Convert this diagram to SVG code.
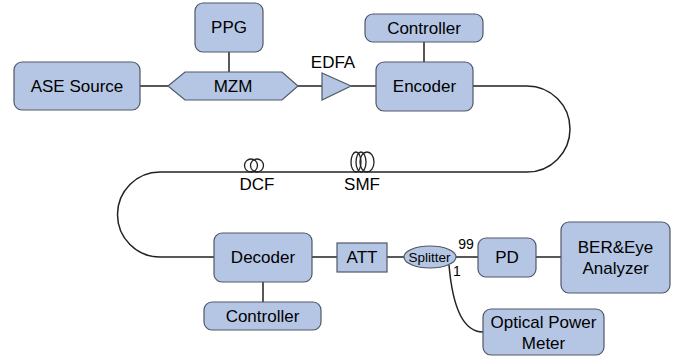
<svg xmlns="http://www.w3.org/2000/svg" width="689" height="358" viewBox="0 0 689 358">
<style>
.box{fill:#b4c6e4;stroke:#505868;stroke-width:1.2}
.ln{fill:none;stroke:#222;stroke-width:1.5}
.coil{fill:none;stroke:#222;stroke-width:1.3}
text{font-family:"Liberation Sans",Arial,sans-serif;fill:#000;text-anchor:middle}
.t{font-size:17px}
.s{font-size:13.5px}
.n{font-size:14px}
</style>
<rect width="689" height="358" fill="#fff"/>
<g id="connectors">
<path class="ln" d="M140 86H168M298 86H322M351 86H376M229 52V72M424 42V62M312 257H337M387 257H404M456 257H478M536 257H561M263 282V302"/>
<path class="ln" d="M473 86H527A43 43 0 0 1 527 172H160A42.5 42.5 0 0 0 160 257H214"/>
<path class="ln" d="M449 265C452 300 460 332 483 332"/>
</g>
<g id="ase"><rect class="box" x="14" y="62" width="126" height="48" rx="8"/><text class="t" x="77" y="92">ASE Source</text></g>
<g id="ppg"><rect class="box" x="195" y="3" width="68" height="49" rx="8"/><text class="t" x="229" y="33">PPG</text></g>
<g id="mzm"><polygon class="box" points="168,86 185,72 282,72 298,86 282,100 185,100"/><text class="t" x="233" y="92">MZM</text></g>
<g id="edfa"><polygon class="box" points="322,73 351,86 322,100"/><text class="t" x="333" y="68">EDFA</text></g>
<g id="controller1"><rect class="box" x="365" y="14" width="118" height="28" rx="8"/><text class="t" x="424" y="34">Controller</text></g>
<g id="encoder"><rect class="box" x="376" y="62" width="97" height="49" rx="8"/><text class="t" x="424.5" y="92">Encoder</text></g>
<g id="dcf"><circle class="coil" cx="251" cy="165.5" r="6.5"/><circle class="coil" cx="257" cy="165.5" r="6.5"/><text class="t" x="257" y="190">DCF</text></g>
<g id="smf"><ellipse class="coil" cx="356" cy="162" rx="5" ry="10"/><ellipse class="coil" cx="361" cy="162" rx="5" ry="10"/><ellipse class="coil" cx="367" cy="162" rx="7" ry="10"/><text class="t" x="362" y="190">SMF</text></g>
<g id="decoder"><rect class="box" x="214" y="233" width="98" height="49" rx="8"/><text class="t" x="263" y="263">Decoder</text></g>
<g id="controller2"><rect class="box" x="204" y="302" width="117" height="28" rx="8"/><text class="t" x="262.5" y="322">Controller</text></g>
<g id="att"><rect class="box" x="337" y="243" width="50" height="29"/><text class="t" x="362" y="263">ATT</text></g>
<g id="splitter"><ellipse class="box" cx="430" cy="257" rx="26" ry="11"/><text class="s" x="429.5" y="262">Splitter</text><text class="n" x="466" y="249">99</text><text class="n" x="457" y="276">1</text></g>
<g id="pd"><rect class="box" x="478" y="238" width="58" height="39" rx="8"/><text class="t" x="507" y="263">PD</text></g>
<g id="ber"><rect class="box" x="561" y="222" width="109" height="71" rx="8"/><text class="t" x="615.5" y="253">BER&amp;Eye</text><text class="t" x="615.5" y="274">Analyzer</text></g>
<g id="opm"><rect class="box" x="483" y="309" width="121" height="46" rx="8"/><text class="t" x="543.5" y="328">Optical Power</text><text class="t" x="543.5" y="349">Meter</text></g>
</svg>
